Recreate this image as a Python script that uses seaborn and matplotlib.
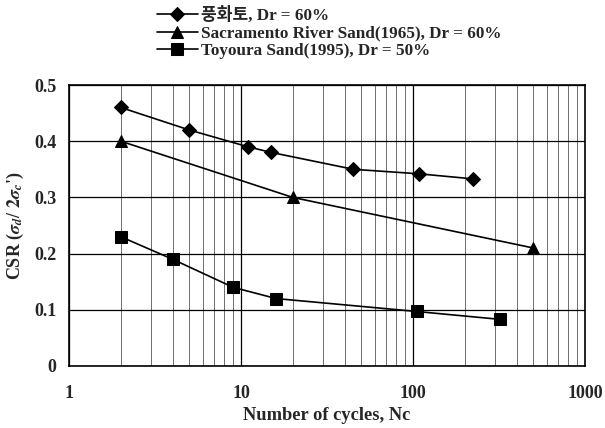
import matplotlib
matplotlib.use("Agg")
import matplotlib.pyplot as plt
import matplotlib.ticker as mticker
import seaborn as sns
import pandas as pd

# ---- data ----
weathered_x = [2, 5, 11, 15, 45, 108, 223]
weathered_y = [0.46, 0.42, 0.39, 0.38, 0.35, 0.342, 0.333]
sacramento_x = [2, 20, 500]
sacramento_y = [0.40, 0.30, 0.21]
toyoura_x = [2, 4, 9, 16, 105, 320]
toyoura_y = [0.23, 0.19, 0.14, 0.12, 0.097, 0.083]

labels = ["풍화토, Dr = 60%",
          "Sacramento River Sand(1965), Dr = 60%",
          "Toyoura Sand(1995), Dr = 50%"]
x_ticks = [1, 10, 100, 1000]
x_tick_labels = ["1", "10", "100", "1000"]
y_ticks = [0, 0.1, 0.2, 0.3, 0.4, 0.5]
y_tick_labels = ["0", "0.1", "0.2", "0.3", "0.4", "0.5"]
x_label = "Number of cycles, Nc"
y_label = r"CSR ($\sigma_d$/ $2\sigma_c$')"

sns.set_style("white")
plt.rcParams['font.family'] = ['Liberation Serif', 'Noto Sans CJK KR']
plt.rcParams['font.weight'] = 'bold'
plt.rcParams['mathtext.fontset'] = 'stix'

fig = plt.figure(figsize=(6.05, 4.28), dpi=100)
ax = fig.add_axes([69/605, 1-366/428, (585-69)/605, (366-85)/428])

series = [(weathered_x, weathered_y, 'D', 7),
          (sacramento_x, sacramento_y, '^', 8),
          (toyoura_x, toyoura_y, 's', 8)]
for (xs, ys, mk, ms), lab in zip(series, labels):
    df = pd.DataFrame({"x": xs, "y": ys})
    sns.lineplot(data=df, x="x", y="y", ax=ax, color="black", marker=mk,
                 markersize=ms, markeredgecolor="black", linewidth=1.2,
                 label=lab, legend=False)

ax.set_xscale("log")
ax.set_xlim(1, 1000)
ax.set_ylim(0, 0.5)
ax.xaxis.set_major_locator(mticker.FixedLocator(x_ticks))
ax.xaxis.set_minor_locator(mticker.LogLocator(base=10, subs=range(2, 10)))
ax.xaxis.set_minor_formatter(mticker.NullFormatter())
ax.set_xticks(x_ticks)
ax.set_xticklabels(x_tick_labels, fontsize=13, fontweight='bold')
ax.set_yticks(y_ticks)
ax.set_yticklabels(y_tick_labels, fontsize=13, fontweight='bold')
ax.tick_params(axis='both', which='both', length=0)
ax.tick_params(axis='x', pad=14)
ax.tick_params(axis='y', pad=9)

ax.grid(True, which='major', axis='both', color='black', linewidth=0.9)
ax.grid(True, which='minor', axis='x', color='#555555', linewidth=0.6)
ax.set_axisbelow(True)
for s in ax.spines.values():
    s.set_color('black')
    s.set_linewidth(1.2)

ax.set_xlabel(x_label, fontsize=13.3, fontweight='bold', labelpad=3)
ax.set_ylabel(y_label, fontsize=13, fontweight='bold')
ax.yaxis.set_label_coords(-0.083, 0.5)

handles, labs = ax.get_legend_handles_labels()
fig.legend(handles, labs, loc='upper left', bbox_to_anchor=(150/605, 1.0),
           frameon=False, handlelength=2.4, handletextpad=0.2,
           labelspacing=0.1, borderaxespad=0.0, prop={'weight': 'bold', 'size': 12.3})

fig.savefig("out.png", dpi=100)
